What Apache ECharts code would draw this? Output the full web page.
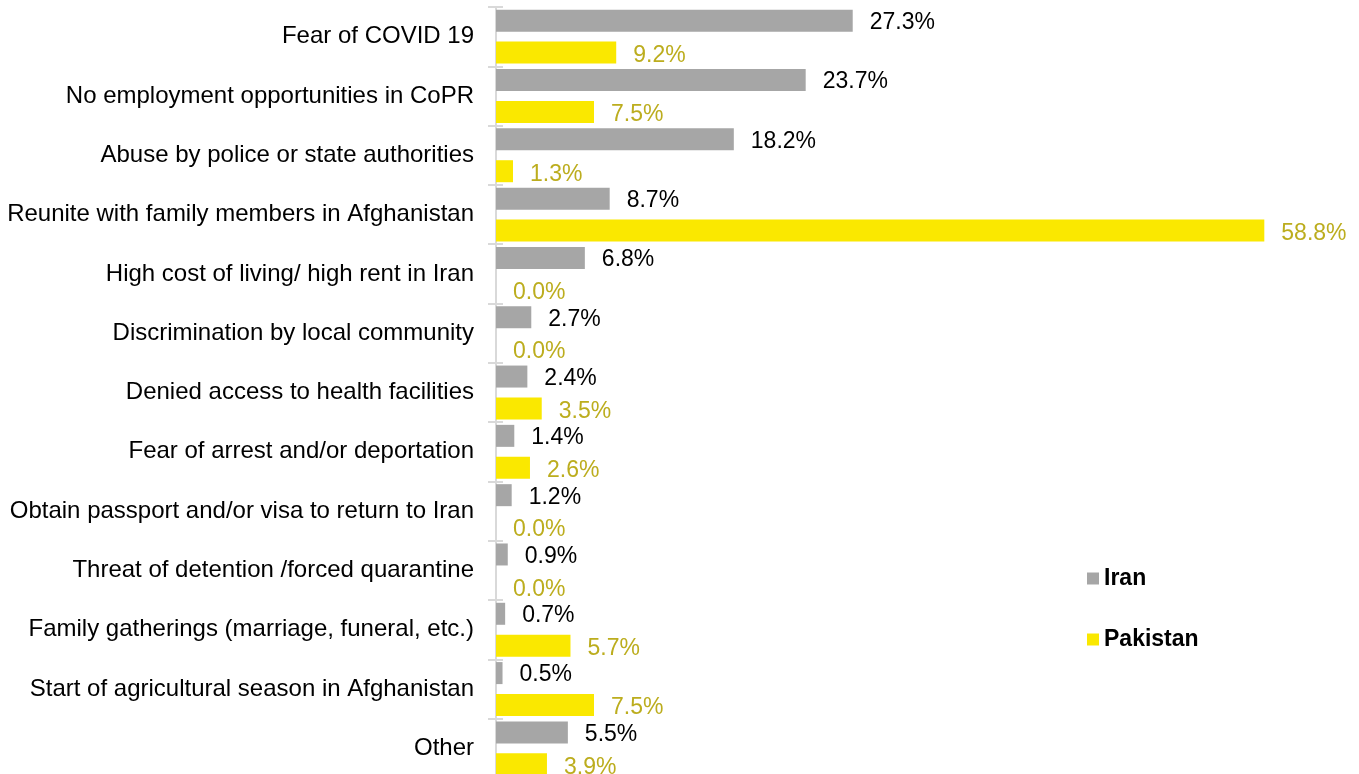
<!DOCTYPE html>
<html><head><meta charset="utf-8">
<script src="https://cdn.jsdelivr.net/npm/echarts@6/dist/echarts.min.js"></script>
<style>html,body{margin:0;padding:0;background:#fff;overflow:hidden}#c{width:1359px;height:790px}</style>
</head><body><div id="c"></div>
<script>
const categories = [
  "Fear of COVID 19",
  "No employment opportunities in CoPR",
  "Abuse by police or state authorities",
  "Reunite with family members in Afghanistan",
  "High cost of living/ high rent in Iran",
  "Discrimination by local community",
  "Denied access to health facilities",
  "Fear of arrest and/or deportation",
  "Obtain passport and/or visa to return to Iran",
  "Threat of detention /forced quarantine",
  "Family gatherings (marriage, funeral, etc.)",
  "Start of agricultural season in Afghanistan",
  "Other"
];
const iran = [27.3, 23.7, 18.2, 8.7, 6.8, 2.7, 2.4, 1.4, 1.2, 0.9, 0.7, 0.5, 5.5];
const pakistan = [9.2, 7.5, 1.3, 58.8, 0.0, 0.0, 3.5, 2.6, 0.0, 0.0, 5.7, 7.5, 3.9];

const font = '"Liberation Sans", Arial, sans-serif';
const chart = echarts.init(document.getElementById('c'), null, {renderer: 'canvas'});
chart.setOption({
  animation: false,
  textStyle: {fontFamily: font},
  grid: {left: 496, top: 7, width: 784, height: 771, containLabel: false},
  legend: {
    orient: 'vertical', left: 1082, top: 562, itemGap: 38,
    itemWidth: 12, itemHeight: 12, icon: 'rect',
    textStyle: {fontFamily: font, fontSize: 23, fontWeight: 'bold', color: '#000'},
    data: ['Iran', 'Pakistan']
  },
  xAxis: {type: 'value', min: 0, max: 60, show: false},
  yAxis: [{
    type: 'category', data: categories, inverse: true,
    axisLine: {lineStyle: {color: '#D9D9D9', width: 2}},
    axisTick: {show: true, length: 8, lineStyle: {color: '#D9D9D9', width: 2}},
    axisLabel: {fontFamily: font, fontSize: 24, color: '#000', margin: 22}
  }, {
    type: 'category', data: categories, inverse: true, position: 'left', offset: 0,
    axisLine: {show: false},
    axisTick: {show: true, inside: true, length: 7, lineStyle: {color: '#D9D9D9', width: 2}},
    axisLabel: {show: false}
  }],
  series: [
    {name: 'Iran', type: 'bar', data: iran, barWidth: 22, barGap: '45%',
     itemStyle: {color: '#A6A6A6'},
     label: {show: true, position: 'right', distance: 17, offset: [0, 2], fontFamily: font, fontSize: 23, color: '#000',
       formatter: p => p.value.toFixed(1) + '%'}},
    {name: 'Pakistan', type: 'bar', data: pakistan, barWidth: 22,
     itemStyle: {color: '#FAE800'},
     label: {show: true, position: 'right', distance: 17, offset: [0, 3], fontFamily: font, fontSize: 23, color: '#BCAD1E',
       formatter: p => p.value.toFixed(1) + '%'}}
  ]
});
</script></body></html>
